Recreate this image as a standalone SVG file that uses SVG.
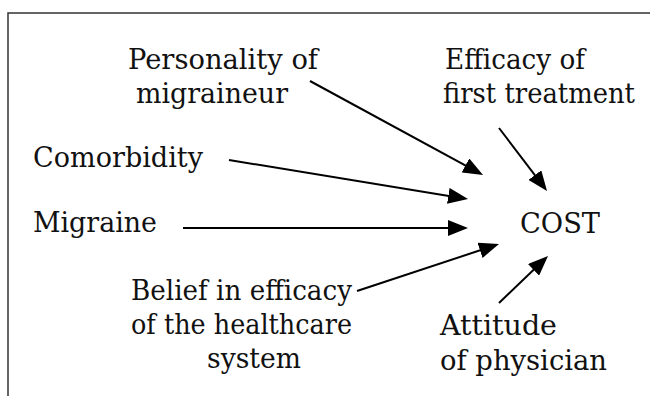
<svg xmlns="http://www.w3.org/2000/svg" width="650" height="396" viewBox="0 0 650 396">
  <style>
    .lbl { font-family: "DejaVu Serif", "Liberation Serif", serif; font-size: 27px; fill: #111; }
    .edge { stroke: #000; stroke-width: 2; fill: none; marker-end: url(#arrow); }
    .frame { stroke: #333; stroke-width: 1.5; fill: none; }
  </style>
  <defs>
    <marker id="arrow" viewBox="0 0 20 16" refX="16" refY="8" markerWidth="20" markerHeight="16" markerUnits="userSpaceOnUse" orient="auto">
      <path d="M0,0 L20,8 L0,16 z" fill="#000"/>
    </marker>
  </defs>
  <rect width="650" height="396" fill="#fff"/>
  <path class="frame" d="M8,396 V13 H650"/>

  <g id="personality">
    <text class="lbl" x="128" y="69" textLength="190" lengthAdjust="spacingAndGlyphs">Personality of</text>
    <text class="lbl" x="136" y="103" textLength="152" lengthAdjust="spacingAndGlyphs">migraineur</text>
  </g>
  <g id="efficacy">
    <text class="lbl" x="445" y="69" textLength="140" lengthAdjust="spacingAndGlyphs">Efficacy of</text>
    <text class="lbl" x="443" y="103" textLength="192" lengthAdjust="spacingAndGlyphs">first treatment</text>
  </g>
  <g id="comorbidity">
    <text class="lbl" x="33" y="167" textLength="170" lengthAdjust="spacingAndGlyphs">Comorbidity</text>
  </g>
  <g id="migraine">
    <text class="lbl" x="33" y="232" textLength="124" lengthAdjust="spacingAndGlyphs">Migraine</text>
  </g>
  <g id="cost">
    <text class="lbl" x="520" y="233" textLength="80" lengthAdjust="spacingAndGlyphs">COST</text>
  </g>
  <g id="belief">
    <text class="lbl" x="131" y="300" textLength="221" lengthAdjust="spacingAndGlyphs">Belief in efficacy</text>
    <text class="lbl" x="131" y="334" textLength="221" lengthAdjust="spacingAndGlyphs">of the healthcare</text>
    <text class="lbl" x="207" y="368" textLength="94" lengthAdjust="spacingAndGlyphs">system</text>
  </g>
  <g id="attitude">
    <text class="lbl" x="440" y="335" textLength="117" lengthAdjust="spacingAndGlyphs">Attitude</text>
    <text class="lbl" x="440" y="370" textLength="167" lengthAdjust="spacingAndGlyphs">of physician</text>
  </g>

  <g id="connectors">
    <line class="edge" x1="310" y1="81" x2="479.5" y2="173.1"/>
    <line class="edge" x1="499" y1="128" x2="544.6" y2="187.8"/>
    <line class="edge" x1="229" y1="160" x2="464.1" y2="198.4"/>
    <line class="edge" x1="183" y1="228" x2="464" y2="228"/>
    <line class="edge" x1="357" y1="291" x2="495.2" y2="245.3"/>
    <line class="edge" x1="499" y1="303" x2="545.1" y2="258.8"/>
  </g>
</svg>
